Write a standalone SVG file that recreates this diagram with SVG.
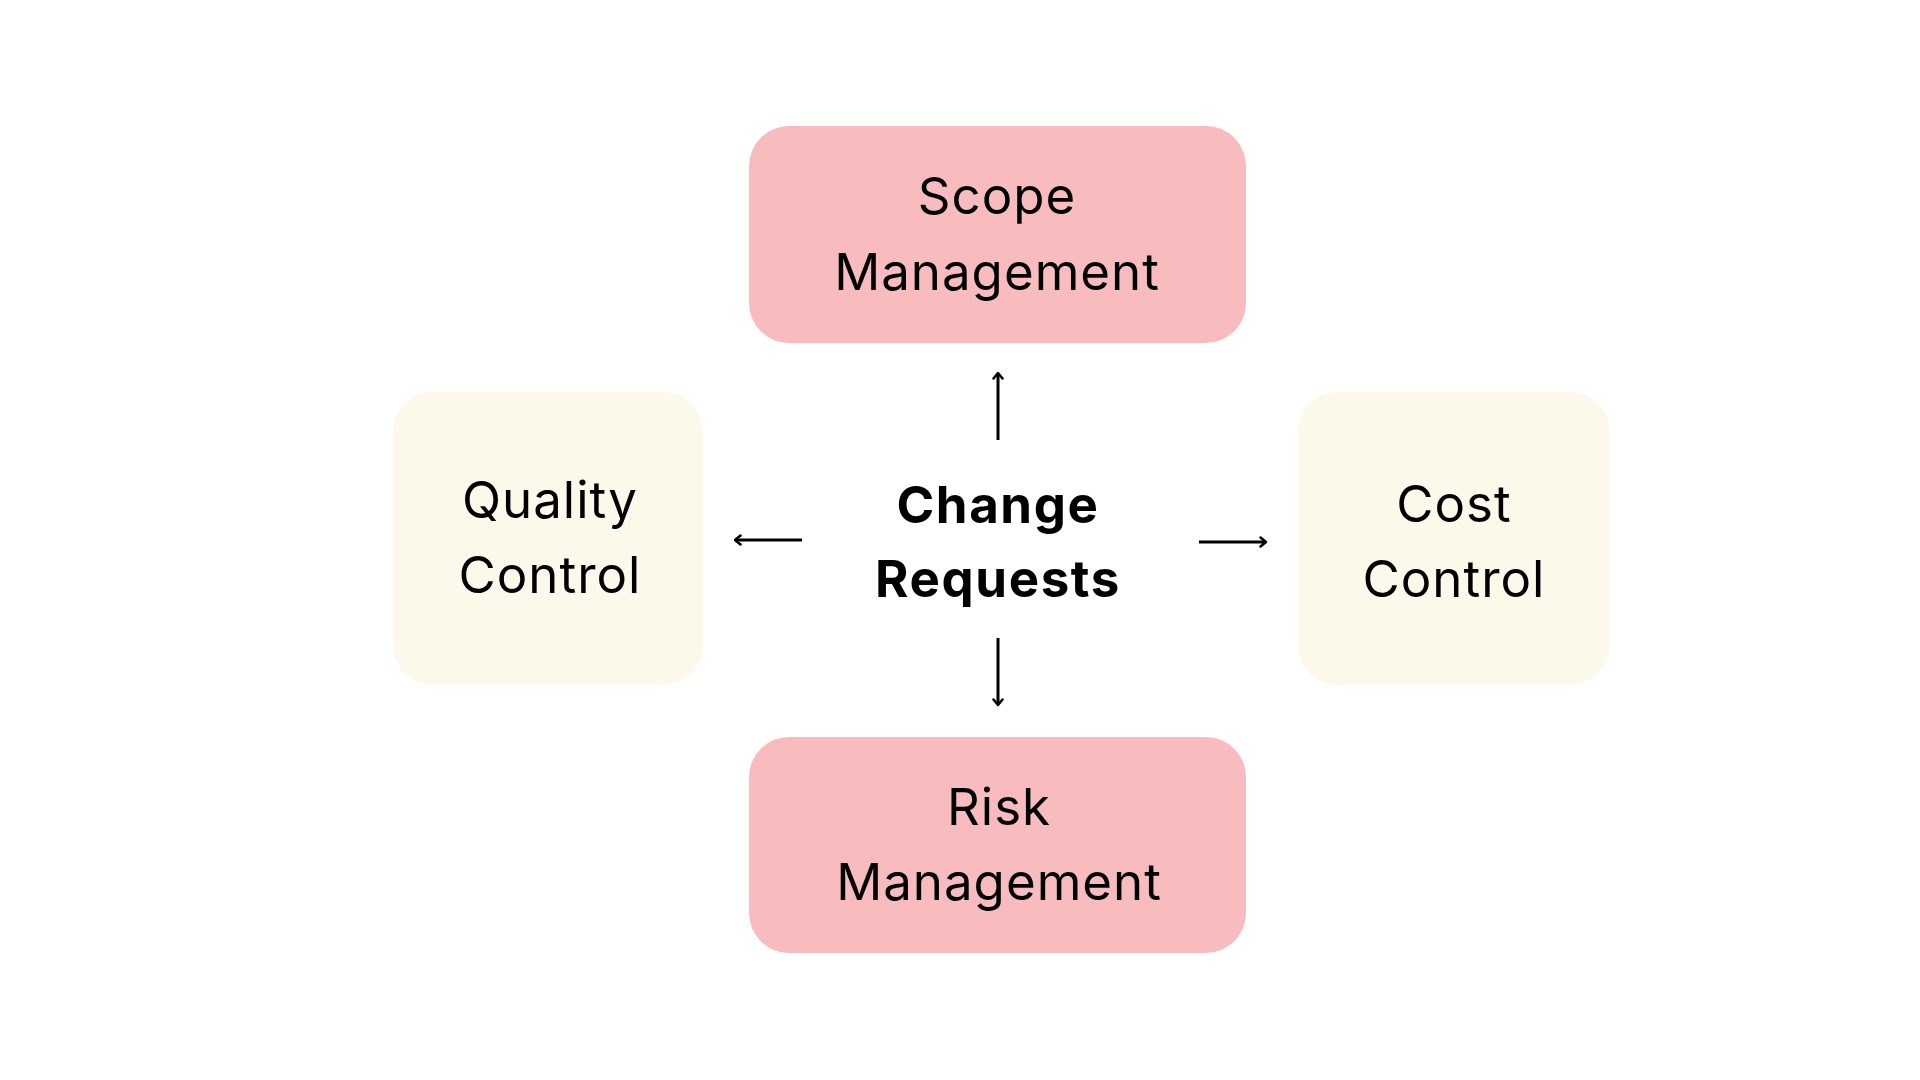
<svg xmlns="http://www.w3.org/2000/svg" width="1920" height="1080" viewBox="0 0 1920 1080">
<style>
.pink{fill:#F8BCBF}
.cream{fill:#FDF9EA}
.lbl{font-family:Inter,"Open Sans","Liberation Sans",sans-serif;font-size:51px;letter-spacing:1px;fill:#000;text-anchor:middle}
.bold{font-weight:700;letter-spacing:1.6px}
.conn{stroke:#000;stroke-width:3;fill:none;marker-end:url(#ah)}
</style>
<defs>
<marker id="ah" viewBox="0 0 12 12" refX="10.5" refY="6" markerWidth="12" markerHeight="12" markerUnits="userSpaceOnUse" orient="auto">
<path d="M5,1.5 L10.5,6 L5,10.5" fill="none" stroke="#000" stroke-width="2.5" stroke-linecap="round" stroke-linejoin="round"/>
</marker>
</defs>
<rect width="1920" height="1080" fill="#fff"/>
<g id="scope">
<rect class="pink" x="749" y="126" width="497" height="217" rx="40"/>
<text class="lbl" x="997" y="214">Scope</text>
<text class="lbl" x="997" y="290">Management</text>
</g>
<g id="quality">
<rect class="cream" x="393" y="392" width="310" height="293" rx="40"/>
<text class="lbl" x="550" y="518">Quality</text>
<text class="lbl" x="550" y="593">Control</text>
</g>
<g id="change">
<text class="lbl bold" x="998" y="523">Change</text>
<text class="lbl bold" x="998" y="597">Requests</text>
</g>
<g id="cost">
<rect class="cream" x="1298" y="392" width="312" height="293" rx="40"/>
<text class="lbl" x="1454" y="522">Cost</text>
<text class="lbl" x="1454" y="597">Control</text>
</g>
<g id="risk">
<rect class="pink" x="749" y="737" width="497" height="216" rx="40"/>
<text class="lbl" x="999" y="825">Risk</text>
<text class="lbl" x="999" y="900">Management</text>
</g>
<g id="connectors">
<line class="conn" x1="998" y1="440" x2="998" y2="373"/>
<line class="conn" x1="998" y1="638" x2="998" y2="705"/>
<line class="conn" x1="802" y1="540" x2="735" y2="540"/>
<line class="conn" x1="1199" y1="542" x2="1266" y2="542"/>
</g>
</svg>
